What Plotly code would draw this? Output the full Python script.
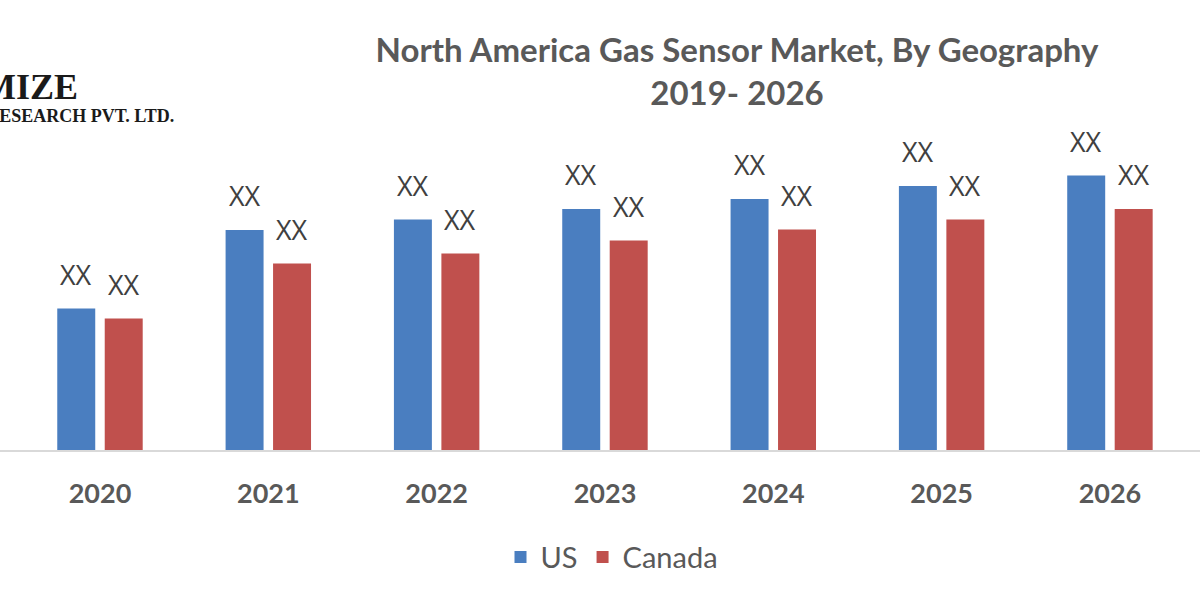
import plotly.graph_objects as go

# data (values are arbitrary units, labels show "XX")
years = ["2020", "2021", "2022", "2023", "2024", "2025", "2026"]
us_values = [141.5, 220, 230.5, 241, 251, 264, 274.5]
canada_values = [131.5, 186.5, 196.5, 209.5, 220.5, 230.5, 241]
series_names = ["US", "Canada"]
bar_labels = ["XX"] * len(years)

title_lines = ["North America Gas Sensor Market, By Geography", "2019- 2026"]

BLUE = "#4A7EC0"
RED = "#C0504D"
TEXT = "#595959"

fig = go.Figure()
fig.add_trace(go.Bar(x=years, y=us_values, name=series_names[0],
                     marker=dict(color=BLUE, line=dict(width=0))))
fig.add_trace(go.Bar(x=years, y=canada_values, name=series_names[1],
                     marker=dict(color=RED, line=dict(width=0))))

# "XX" labels above each bar (pixel shift = half of a bar slot)
annots = []
for vals, shift in [(us_values, -23.7), (canada_values, 23.7)]:
    for i, (v, lab) in enumerate(zip(vals, bar_labels)):
        annots.append(dict(x=i, y=v, text=lab, showarrow=False,
                           xshift=shift, yshift=14, yanchor="bottom",
                           font=dict(family="Open Sans", size=27, color="#404040")))

# cut-off company logo at the top left
annots.append(dict(xref="paper", yref="paper", x=80 / 1200, y=1.21,
                   xanchor="right", yanchor="middle", showarrow=False,
                   text="<b>MAXIMIZE</b>",
                   font=dict(family="Liberation Serif", size=36, color="#1a1a1a")))
annots.append(dict(xref="paper", yref="paper", x=176 / 1200, y=1.115,
                   xanchor="right", yanchor="middle", showarrow=False,
                   text="<b>MARKET RESEARCH PVT. LTD.</b>",
                   font=dict(family="Liberation Serif", size=18, color="#1a1a1a")))

fig.update_layout(
    width=1200, height=600,
    paper_bgcolor="white", plot_bgcolor="white",
    margin=dict(l=0, r=0, t=150, b=150),
    barmode="group", bargap=0.436, bargroupgap=0.2,
    title=dict(text="<br>".join(title_lines), x=737 / 1200, xanchor="center",
               y=1 - 62 / 600, yanchor="middle",
               font=dict(family="Lato", size=33, color=TEXT, weight="bold")),
    xaxis=dict(type="category", range=[-0.594, 6.535], showline=True,
               linecolor="#D9D9D9", linewidth=2, showgrid=False, zeroline=False,
               ticks="", ticklabelstandoff=19,
               tickfont=dict(family="Lato", size=27, color=TEXT, weight="bold")),
    yaxis=dict(range=[0, 300], visible=False),
    legend=dict(orientation="h", x=0.51, xanchor="center", y=-0.357,
                yanchor="middle", itemwidth=30,
                font=dict(family="Lato", size=29, color=TEXT)),
    annotations=annots,
)

# drop the default 8px page margin so the 1200x600 figure fills the window
fig.write_html("out.html", config={"displayModeBar": False},
               post_script="document.body.style.margin = '0';")
